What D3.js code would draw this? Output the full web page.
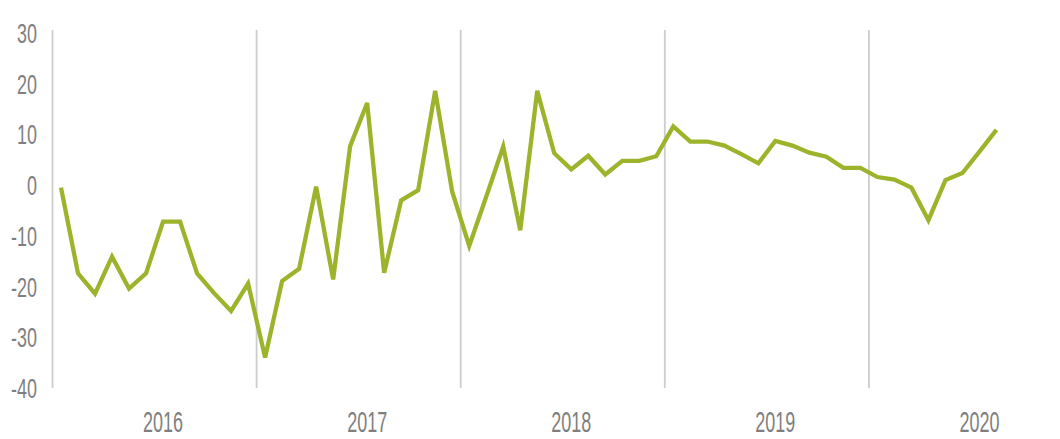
<!DOCTYPE html>
<html lang="en">
<head>
    <meta charset="UTF-8">
    <title>Monthly change, 2016-2020</title>
    <script src="https://d3js.org/d3.v7.min.js"></script>
    <style>
        body { margin: 0; background: #fff; }
        .tick-label { fill: #7f7f7f; font-family: "Liberation Sans", Arial, sans-serif; }
    </style>
</head>
<body>
    <div id="chart"></div>

    <script>
        // data (monthly, Jan 2016 .. Aug 2020)
        var years = ["2016", "2017", "2018", "2019", "2020"];
        var yTicks = [30, 20, 10, 0, -10, -20, -30, -40];
        var values2016 = [-0.5, -17.4, -21.4, -14.1, -20.4, -17.4, -7.2, -7.2, -17.4, -21.3, -24.8, -19.4];
        var values2017 = [-34.0, -18.9, -16.5, -0.3, -18.6, 7.7, 16.2, -17.3, -3.0, -1.0, 18.6, -1.3];
        var values2018 = [-12.0, -2.3, 7.6, -8.9, 18.6, 6.3, 3.1, 5.8, 2.1, 4.8, 4.8, 5.7];
        var values2019 = [11.6, 8.6, 8.6, 7.8, 6.1, 4.3, 8.7, 7.8, 6.4, 5.6, 3.4, 3.4];
        var values2020 = [1.6, 1.1, -0.5, -6.9, 1.0, 2.4, 6.6, 10.9];

        var values = [].concat(values2016, values2017, values2018, values2019, values2020);

        var width = 1060, height = 439;

        var svg = d3.select("#chart")
          .append("svg")
            .attr("width", width)
            .attr("height", height);

        // month index -> x (year boundaries fall on half months)
        var x = d3.scaleLinear()
          .domain([-0.5, 59.5])
          .range([52.5, 1073]);

        var y = d3.scaleLinear()
          .domain([-40, 30])
          .range([388, 33]);

        // vertical separators at each year boundary
        svg.append("g")
          .selectAll("line")
          .data(d3.range(years.length))
          .enter()
          .append("line")
            .attr("x1", function (d) { return x(d * 12 - 0.5); })
            .attr("x2", function (d) { return x(d * 12 - 0.5); })
            .attr("y1", 30)
            .attr("y2", 388)
            .style("stroke", "#cdcdcd")
            .style("stroke-width", 1.8);

        // y tick labels
        svg.append("g")
          .selectAll("text")
          .data(yTicks)
          .enter()
          .append("text")
            .attr("class", "tick-label")
            .attr("text-anchor", "end")
            .attr("transform", function (d) { return "translate(37," + (y(d) + 10) + ") scale(0.64,1)"; })
            .style("font-size", "28px")
            .text(function (d) { return d; });

        // year labels, centred on July of each year
        svg.append("g")
          .selectAll("text")
          .data(years)
          .enter()
          .append("text")
            .attr("class", "tick-label")
            .attr("text-anchor", "middle")
            .attr("transform", function (d, i) { return "translate(" + x(i * 12 + 6) + ",432) scale(0.62,1)"; })
            .style("font-size", "29px")
            .text(function (d) { return d; });

        // the series line
        var line = d3.line()
          .x(function (d, i) { return x(i); })
          .y(function (d) { return y(d); });

        svg.append("path")
          .datum(values)
          .attr("d", line)
          .style("fill", "none")
          .style("stroke", "#9cb42b")
          .style("stroke-width", 4.3)
          .style("stroke-linejoin", "miter")
          .style("stroke-linecap", "butt");
    </script>
</body>
</html>
